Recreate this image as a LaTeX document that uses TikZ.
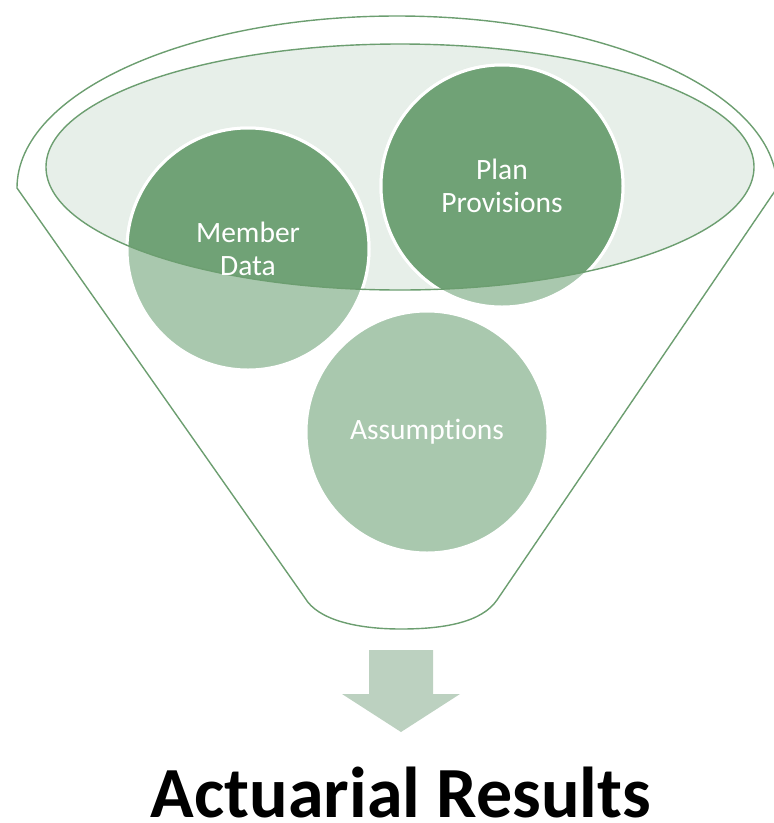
\documentclass[tikz,border=0pt]{standalone}
\usepackage{fontspec}
\setmainfont{Carlito}[Ligatures=NoCommon]
\usetikzlibrary{positioning}
\definecolor{leafdark}{HTML}{70A276}
\definecolor{leaflight}{HTML}{A9C8AE}
\definecolor{bowlfill}{HTML}{E7EFE9}
\definecolor{rimline}{HTML}{6C9E70}
\definecolor{arrowfill}{HTML}{BCD1C0}

\begin{document}
\begin{tikzpicture}[
                x=1pt, y=-1pt,
                rim/.style={draw=rimline, line width=1.4pt},
                bubble/.style={circle, minimum size=242pt, inner sep=0pt,
                    fill=leaflight, draw=white, line width=3pt},
                deepbubble/.style={bubble, fill=leafdark},
                caption/.style={text=white, align=center,
                    font=\fontsize{29.5}{33}\selectfont}]
            \useasboundingbox (0,0) rectangle (774,823);
            % funnel body
            \draw[rim] (305,598) -- (17,188)
                arc[start angle=180, end angle=0, x radius=380pt, y radius=172pt]
                -- (497,600)
                .. controls (482,622) and (445,629) .. (401,629)
                .. controls (357,629) and (318,620) .. cycle;
            \fill[bowlfill] (400,167) ellipse[x radius=354pt, y radius=123pt];
            \node[bubble] (member) at (248,249) {};
            \node[bubble] (plan) at (502,186) {};
            \node[bubble] (assume) at (427,432) {};
            \begin{scope}
                \clip (400,167) ellipse[x radius=354pt, y radius=123pt];
                \node[deepbubble] at (member) {};
                \node[deepbubble] at (plan) {};
            \end{scope}
            \draw[rim] (400,167) ellipse[x radius=354pt, y radius=123pt];
            \node[caption] (member_txt) at (member) {Member\\Data};
            \node[caption] (plan_txt) at (plan) {Plan\\Provisions};
            \node[caption] (assume_txt) at (assume) {Assumptions};
            % result arrow
            \fill[arrowfill] (369,650) -- (433,650) -- (433,694) -- (460,694)
                -- (401,732) -- (342,694) -- (369,694) -- cycle;
            \node[font=\bfseries\fontsize{72}{80}\selectfont, anchor=base]
                (result) at (401,817) {Actuarial Results};
        \end{tikzpicture}
\end{document}
